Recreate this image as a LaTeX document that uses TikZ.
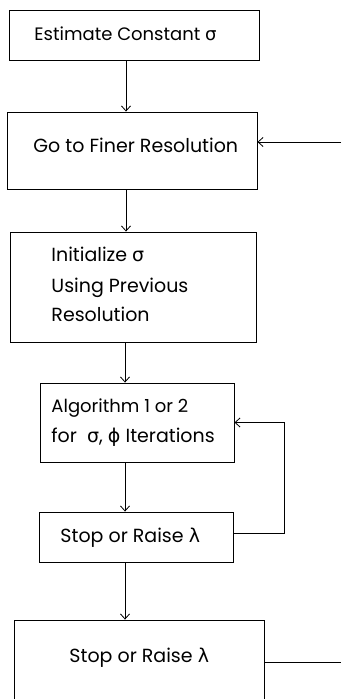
\documentclass[tikz,border=0pt]{standalone}
\usepackage{fontspec}
\setmainfont{Poppins}
\newfontfamily\grk{DejaVu Sans}
\usetikzlibrary{arrows.meta}
\newcommand{\gs}{{\grk σ}}
\newcommand{\gp}{{\grk ϕ}}
\newcommand{\gl}{{\grk λ}}
\begin{document}
\begin{tikzpicture}[x=1pt,y=-1pt,
  line width=0.9pt,
  box/.style={draw, rectangle, inner sep=0pt, minimum width=#1},
  lbl/.style={anchor=base west, inner sep=0pt, font=\fontsize{19}{22}\selectfont},
  arr/.style={-{Straight Barb[length=5pt,width=9pt,line width=0.8pt]}}]
  \useasboundingbox (0,0) rectangle (341,699);
  \clip (0,0) rectangle (341,699);

  % boxes
  \node[box=250pt, minimum height=50pt]  (b1) at (134,35) {};
  \node[box=250pt, minimum height=77pt]  (b2) at (132,150.5) {};
  \node[box=246pt, minimum height=110pt] (b3) at (133,287) {};
  \node[box=194pt, minimum height=79pt]  (b4) at (137,422.5) {};
  \node[box=194pt, minimum height=50pt]  (b5) at (136,537) {};
  \node[box=250pt, minimum height=160pt] (b6) at (139,700) {};

  % texts
  \node[lbl, font=\fontsize{18}{22}\selectfont] (t1) at (34,40) {Estimate Constant \gs};
  \node[lbl] (t2)  at (33,152) {Go to Finer Resolution};
  \node[lbl] (t3a) at (51,261) {Initialize \gs};
  \node[lbl] (t3b) at (51,292) {Using Previous};
  \node[lbl] (t3c) at (51,321) {Resolution};
  \node[lbl, font=\fontsize{18}{22}\selectfont] (t4a) at (51,412) {Algorithm 1 or 2};
  \node[lbl] (t4b) at (51,442) {for \ \gs, \gp\ Iterations};
  \node[lbl] (t5)  at (60,542) {Stop or Raise \gl};
  \node[lbl] (t6)  at (69,662) {Stop or Raise \gl};

  % connector guides
  \coordinate (ax) at (126,0);
  \coordinate (ax2) at (125,0);
  \coordinate (edgeA) at (341,142);
  \coordinate (edgeB) at (341,662);
  \coordinate (loopx) at (284,0);

  % vertical flow
  \draw[arr] (ax |- b1.south) -- (ax |- b2.north);
  \draw[arr] (ax |- b2.south) -- (ax |- b3.north);
  \draw[arr] (ax2 |- b3.south) -- (ax2 |- b4.north);
  \draw[arr] (ax2 |- b4.south) -- (ax2 |- b5.north);
  \draw[arr] (ax2 |- b5.south) -- (ax2 |- b6.north);

  % feedback lines
  \draw[arr] (edgeA) -- (edgeA -| b2.east);
  \draw (edgeB -| b6.east) -- (edgeB);
  \coordinate (l1) at (0,533);
  \draw[arr] (l1 -| b5.east) -| (loopx |- b4.east) -- (b4.east);
\end{tikzpicture}
\end{document}
